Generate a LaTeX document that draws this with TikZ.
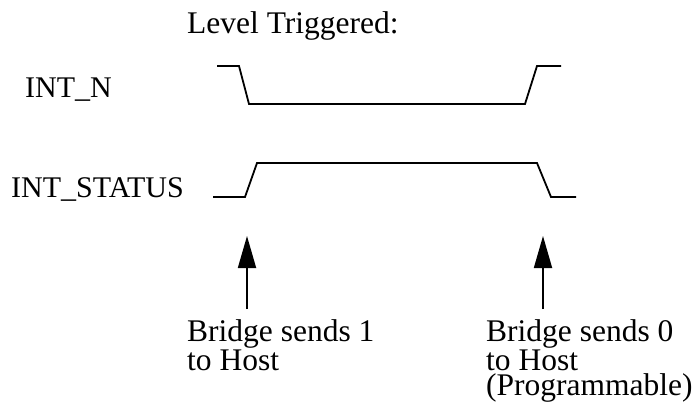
\documentclass[tikz,border=0pt]{standalone}
\usepackage{fontspec}
\setmainfont{Liberation Serif}
\usetikzlibrary{arrows.meta}
\tikzset{
  lbl/.style={inner sep=0pt, anchor=base west, align=left,
    font=\fontsize{31.5pt}{25pt}\selectfont},
  sig/.style={lbl, font=\fontsize{30pt}{30pt}\selectfont},
  wave/.style={line width=1.8pt, line join=miter},
  marker/.style={line width=1.8pt, -{Triangle[width=18pt,length=32pt]}}
}
\begin{document}
\begin{tikzpicture}[x=1pt,y=-1pt]
  \useasboundingbox (0,0) rectangle (699,415);

  % title and signal names
  \node[lbl] (title) at (187,33) {Level Triggered:};
  \node[sig] (intn) at (25,97) {INT\_N};
  \node[sig] (intstatus) at (11,197) {INT\_STATUS};

  % INT_N: active-low pulse
  \draw[wave] (217,66) -- (239,66) -- (249,104) -- (525,104) -- (537,66) -- (561,66);

  % INT_STATUS: active-high pulse
  \draw[wave] (213,197) -- (245,197) -- (257,163) -- (537,163) -- (551,197) -- (576,197);

  % event markers
  \coordinate (setfoot) at (247,309);
  \coordinate (settip) at (247,236);
  \coordinate (clrfoot) at (543,309);
  \coordinate (clrtip) at (543,236);
  \draw[marker] (setfoot) -- (settip);
  \draw[marker] (clrfoot) -- (clrtip);

  % annotations (base anchor sits on the last line)
  \node[lbl] (setnote) at (187,370) {Bridge sends 1\\to Host};
  \node[lbl] (clrnote) at (486,395) {Bridge sends 0\\to Host\\(Programmable)};
\end{tikzpicture}
\end{document}
